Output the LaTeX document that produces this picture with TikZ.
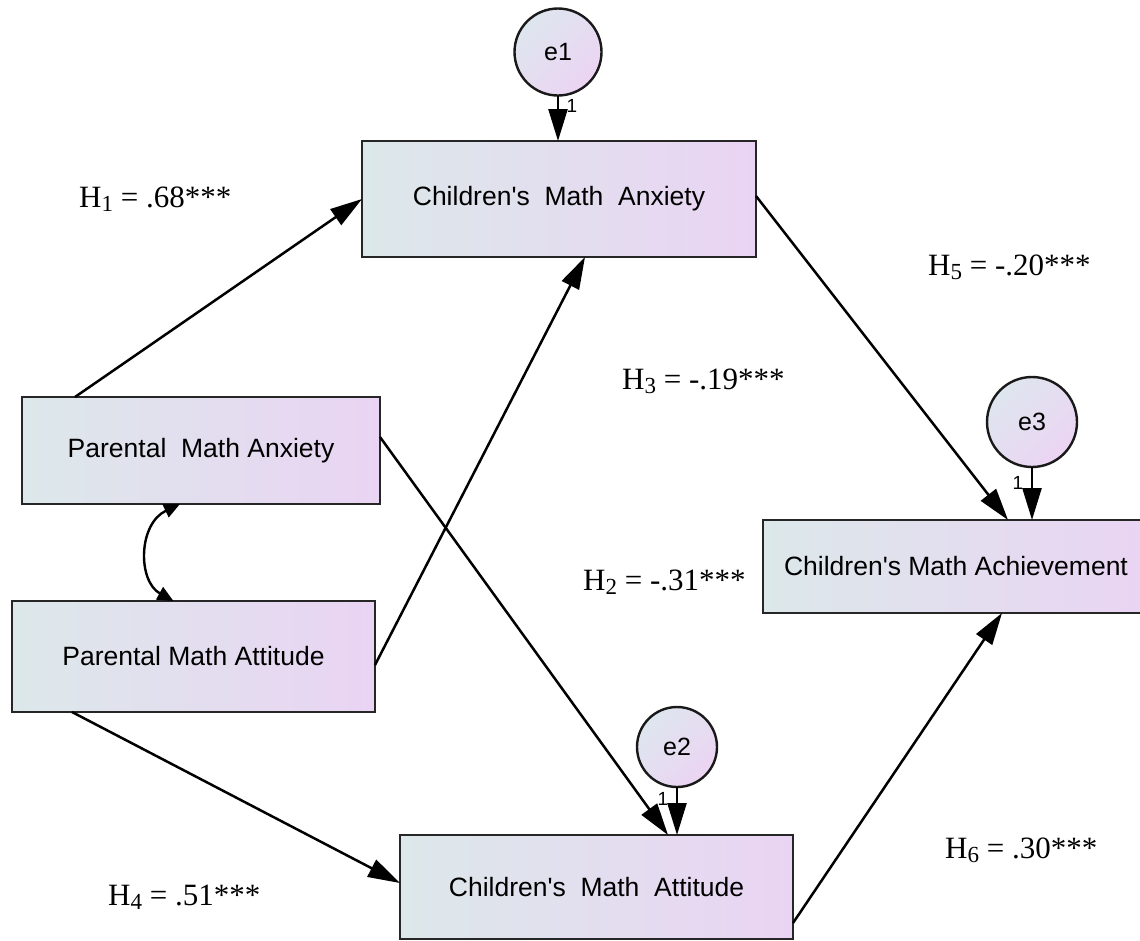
\documentclass[tikz,border=0pt]{standalone}
\usepackage{fontspec}
\setmainfont{Liberation Serif}
\newfontfamily\arial{Liberation Sans}
\usetikzlibrary{arrows.meta}

\definecolor{boxleft}{RGB}{220,232,234}
\definecolor{boxright}{RGB}{234,212,243}
\definecolor{errtop}{RGB}{222,230,238}
\definecolor{errbottom}{RGB}{236,212,243}

\newcommand{\Hyp}[2]{H\raisebox{-0.16em}{\fontsize{23}{23}\selectfont #1} = #2}

\tikzset{
  varbox/.style={draw=black!85, line width=2.6pt, rectangle, inner sep=0pt, outer sep=0pt,
    left color=boxleft, right color=boxright,
    font=\arial\fontsize{26.5}{30}\selectfont},
  errnode/.style={draw=black!90, line width=2.4pt, circle, inner sep=0pt, outer sep=0pt,
    top color=errtop, bottom color=errbottom, shading angle=45,
    font=\arial\fontsize{25}{28}\selectfont},
  path/.style={line width=2.5pt, -{Triangle[length=32pt,width=19pt]}},
  cov/.style={line width=2.4pt, {Triangle[length=16pt,width=14pt]}-{Triangle[length=16pt,width=14pt]}},
  one/.style={font=\arial\fontsize{19}{20}\selectfont, inner sep=0pt},
  hyp/.style={anchor=base west, inner sep=0pt, font=\fontsize{31}{34}\selectfont},
}

\begin{document}
\begin{tikzpicture}[x=1pt, y=-1pt]
\useasboundingbox (0,0) rectangle (1140,940);
\clip (0,0) rectangle (1140,940);

% observed variables
\node[varbox, minimum width=394pt, minimum height=116pt] (CMA) at (559,199) {Children's\ \ Math\ \ Anxiety};
\node[varbox, minimum width=358pt, minimum height=107pt] (PMA) at (201,450.5) {Parental\ \ Math Anxiety};
\node[varbox, minimum width=363pt, minimum height=111pt] (PMT) at (193.5,656.5) {Parental Math Attitude};
\node[varbox, minimum width=386pt, minimum height=93pt] (CAC) at (956,566.5) {Children's Math Achievement};
\node[varbox, minimum width=393pt, minimum height=104pt] (CMT) at (596.5,887) {Children's\ \ Math\ \ Attitude};

% error terms
\node[errnode, minimum size=87pt] (e1) at (558,52) {e1};
\node[errnode, minimum size=80pt] (e2) at (677,747) {e2};
\node[errnode, minimum size=90pt] (e3) at (1032,422) {e3};

% error paths
\draw[path] (e1.south) -- (e1.south |- CMA.north);
\draw[path] (e2.south) -- (e2.south |- CMT.north);
\draw[path] (e3.south) -- (e3.south |- CAC.north);
\node[one] (o1) at (572,106) {1};
\node[one] (o2) at (663,799) {1};
\node[one] (o3) at (1018,483) {1};

% structural paths
\draw[path] ([xshift=53pt]PMA.north west) -- (CMA.west);
\draw[path] ([yshift=-8.5pt]PMT.east) -- ([xshift=26pt]CMA.south);
\draw[path] ([yshift=13.5pt]PMA.east) -- ([xshift=71.5pt]CMT.north);
\draw[path] ([xshift=60pt]PMT.south west) -- ([yshift=4pt]CMT.west);
\draw[path] ([yshift=3pt]CMA.east) -- ([xshift=245pt]CAC.north west);
\draw[path] ([yshift=-36pt]CMT.east) -- ([xshift=239pt]CAC.south west);

% covariance between parental variables
\draw[cov] ([xshift=-21pt]PMA.south) .. controls +(-42,20) and +(-36,-20) .. ([xshift=-20pt]PMT.north);

% hypothesis labels
\node[hyp] (h1) at (79,207) {\Hyp{1}{.68***}};
\node[hyp] (h5) at (928,275) {\Hyp{5}{-.20***}};
\node[hyp] (h3) at (622,389) {\Hyp{3}{-.19***}};
\node[hyp] (h2) at (583,590) {\Hyp{2}{-.31***}};
\node[hyp] (h6) at (945,858) {\Hyp{6}{.30***}};
\node[hyp] (h4) at (108,905) {\Hyp{4}{.51***}};
\end{tikzpicture}
\end{document}
